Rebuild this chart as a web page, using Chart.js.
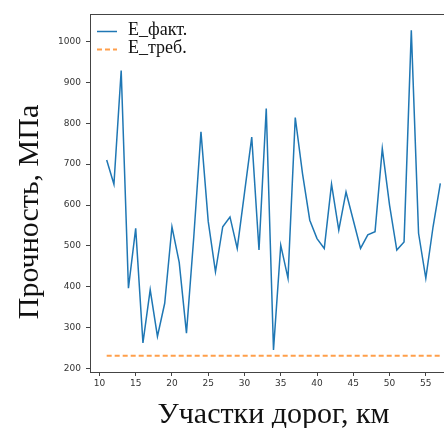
<!DOCTYPE html>
<html>
<head>
<meta charset="utf-8">
<script src="https://cdn.jsdelivr.net/npm/chart.js@4/dist/chart.umd.min.js"></script>
<style>
  html, body { margin: 0; padding: 0; background: #fff; overflow: hidden; }
  #wrap { width: 470px; height: 428px; }
</style>
</head>
<body>
<div id="wrap"><canvas id="chart" width="470" height="428"></canvas></div>
<script>
// road sections, km
var sections = [11, 12, 13, 14, 15, 16, 17, 18, 19, 20, 21, 22, 23, 24, 25, 26,
  27, 28, 29, 30, 31, 32, 33, 34, 35, 36, 37, 38, 39, 40, 41, 42, 43, 44, 45,
  46, 47, 48, 49, 50, 51, 52, 53, 54, 55, 56, 57];

// actual strength, MPa
var eFact = [710, 651, 929, 397, 543, 263, 393, 279, 360, 547, 460, 287, 520,
  779, 560, 437, 547, 571, 494, 630, 766, 490, 836, 246, 502, 421, 814, 677,
  563, 518, 494, 651, 539, 632, 563, 494, 527, 535, 738, 600, 490, 510, 1027,
  531, 421, 547, 653];

// required strength, MPa
var eReq = [232, 232, 232, 232, 232, 232, 232, 232, 232, 232, 232, 232, 232,
  232, 232, 232, 232, 232, 232, 232, 232, 232, 232, 232, 232, 232, 232, 232,
  232, 232, 232, 232, 232, 232, 232, 232, 232, 232, 232, 232, 232, 232, 232,
  232, 232, 232, 232];

var seriesNames = ['E_факт.', 'E_треб.'];
var xTicks = [10, 15, 20, 25, 30, 35, 40, 45, 50, 55];
var yTicks = [200, 300, 400, 500, 600, 700, 800, 900, 1000];
var xTitle = 'Участки дорог, км';
var yTitle = 'Прочность, МПа';

function points(ys) {
  return sections.map(function (x, i) { return { x: x, y: ys[i] }; });
}

// spines on top, legend and axis titles drawn matplotlib-like
var overlay = {
  id: 'overlay',
  afterDraw: function (chart) {
    var ctx = chart.ctx;
    var a = chart.chartArea;
    ctx.save();
    ctx.strokeStyle = '#444';
    ctx.lineWidth = 1;
    ctx.beginPath();
    ctx.moveTo(a.left, a.top + 0.5);
    ctx.lineTo(a.right, a.top + 0.5);
    ctx.stroke();

    // legend
    ctx.font = '18px "Liberation Serif"';
    ctx.fillStyle = '#111';
    ctx.textAlign = 'left';
    ctx.textBaseline = 'alphabetic';
    chart.data.datasets.forEach(function (ds, i) {
      var y = 31.5 + i * 18;
      ctx.save();
      ctx.strokeStyle = ds.borderColor;
      ctx.lineWidth = ds.borderWidth;
      ctx.setLineDash(ds.borderDash || []);
      ctx.beginPath();
      ctx.moveTo(97, y);
      ctx.lineTo(117, y);
      ctx.stroke();
      ctx.restore();
      ctx.fillText(ds.label, 128, y + 3.5);
    });

    // axis titles
    ctx.font = '30px "Liberation Serif"';
    ctx.fillStyle = '#111';
    ctx.textAlign = 'center';
    ctx.fillText(xTitle, (a.left + a.right) / 2, 423);
    ctx.translate(38, 212);
    ctx.rotate(-Math.PI / 2);
    ctx.fillText(yTitle, 0, 0);
    ctx.restore();
  }
};

var tickFont = { family: 'DejaVu Sans', size: 9 };
var plainLabel = function (value) { return String(value); };

new Chart(document.getElementById('chart').getContext('2d'), {
  type: 'line',
  data: {
    datasets: [
      {
        label: seriesNames[0],
        data: points(eFact),
        borderColor: '#1f77b4',
        borderWidth: 1.5,
        pointRadius: 0,
        tension: 0
      },
      {
        label: seriesNames[1],
        data: points(eReq),
        borderColor: 'rgba(255,127,14,0.75)',
        borderWidth: 2,
        borderDash: [5, 3],
        pointRadius: 0,
        tension: 0
      }
    ]
  },
  options: {
    responsive: false,
    animation: false,
    layout: { padding: { left: 0, top: 14, right: 13, bottom: 0 } },
    plugins: {
      legend: { display: false },
      tooltip: { enabled: false }
    },
    scales: {
      x: {
        type: 'linear',
        min: 8.7,
        max: 59.3,
        afterBuildTicks: function (scale) {
          scale.ticks = xTicks.map(function (v) { return { value: v }; });
        },
        afterFit: function (scale) { scale.height = 56; },
        grid: { drawOnChartArea: false, tickLength: 4, color: '#444' },
        border: { color: '#444' },
        ticks: { color: '#333', font: tickFont, padding: 2, maxRotation: 0, callback: plainLabel }
      },
      y: {
        type: 'linear',
        min: 192,
        max: 1067,
        afterBuildTicks: function (scale) {
          scale.ticks = yTicks.map(function (v) { return { value: v }; });
        },
        afterFit: function (scale) { scale.width = 90; },
        grid: { drawOnChartArea: false, tickLength: 4, color: '#444' },
        border: { color: '#444' },
        ticks: { color: '#333', font: tickFont, padding: 5, callback: plainLabel }
      }
    }
  },
  plugins: [overlay]
});
</script>
</body>
</html>
